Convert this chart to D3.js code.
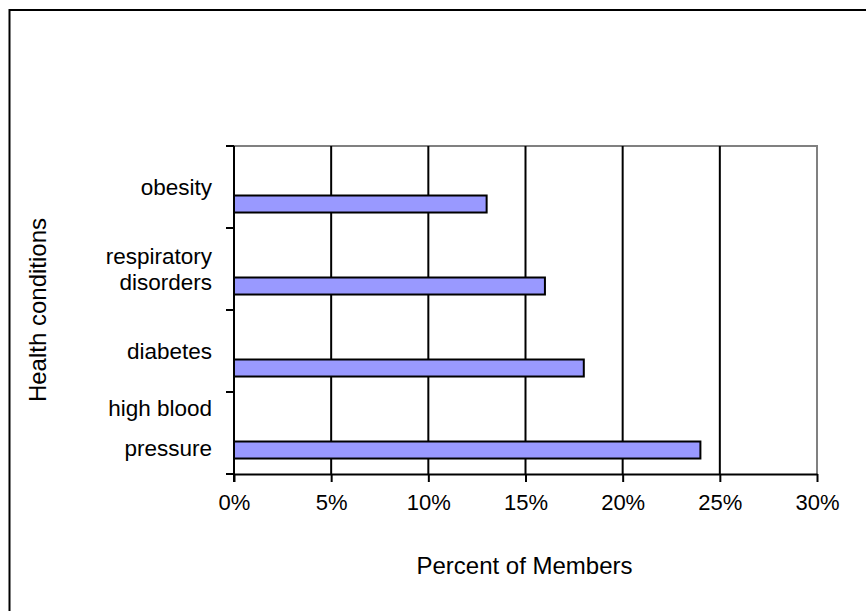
<!DOCTYPE html>
<html>
<head>
<meta charset="utf-8">
<script src="https://cdn.jsdelivr.net/npm/d3@7/dist/d3.min.js"></script>
<style>
  html, body { margin: 0; padding: 0; background: #fff; }
  svg { display: block; font-family: "Liberation Sans", Arial, sans-serif; }
</style>
</head>
<body>
<svg id="chart" width="866" height="611"></svg>
<script>
// Health conditions, top to bottom
const categories = ["obesity", "respiratory disorders", "diabetes", "high blood pressure"];
const labelLines = [["obesity"], ["respiratory", "disorders"], ["diabetes"], ["high blood", "pressure"]];
// Percent of members with each condition
const percentValues = [13, 16, 18, 24];
const tickValues = [0, 5, 10, 15, 20, 25, 30];

const TICK_FONT = 22;
const LABEL_FONT = 22.5;
const svg = d3.select("#chart");
const margin = { left: 234, right: 866 - 817, top: 146, bottom: 611 - 474 };
const W = 866, H = 611;
const plotW = W - margin.left - margin.right;
const plotH = H - margin.top - margin.bottom;

// Outer chart frame (left and top edges visible, runs past the window)
svg.append("rect")
  .attr("x", 9.5).attr("y", 10)
  .attr("width", 900).attr("height", 700)
  .attr("fill", "none").attr("stroke", "#000").attr("stroke-width", 2);

const g = svg.append("g").attr("transform", `translate(${margin.left},${margin.top})`);

const x = d3.scaleLinear().domain([0, 30]).range([0, plotW]);
const y = d3.scaleBand().domain(categories).range([0, plotH]).padding(0);
// three series slots per category; the filled series sits in the bottom slot
const sub = d3.scaleBand().domain([0, 1, 2]).range([0, y.bandwidth()]).paddingInner(0).paddingOuter(0.91);

// plot area border (grey top and right)
g.append("path")
  .attr("d", `M0,0H${plotW}V${plotH}`)
  .attr("fill", "none").attr("stroke", "#808080").attr("stroke-width", 2);

// vertical gridlines
g.selectAll("line.grid")
  .data(tickValues.filter(t => t > 0 && t < 30))
  .enter().append("line")
  .attr("class", "grid")
  .attr("x1", d => x(d)).attr("x2", d => x(d))
  .attr("y1", 0).attr("y2", plotH)
  .attr("stroke", "#000").attr("stroke-width", 2);

// bars
g.selectAll("rect.bar")
  .data(categories)
  .enter().append("rect")
  .attr("class", "bar")
  .attr("x", x(0))
  .attr("y", d => y(d) + sub(2))
  .attr("width", (d, i) => x(percentValues[i]) - x(0))
  .attr("height", sub.bandwidth())
  .attr("fill", "#9999FF")
  .attr("stroke", "#000").attr("stroke-width", 2);

// x axis
const xAxis = g.append("g")
  .attr("transform", `translate(0,${plotH})`)
  .call(d3.axisBottom(x).tickValues(tickValues).tickFormat(d => d + "%").tickSize(8).tickSizeOuter(0));
xAxis.select(".domain").attr("stroke", "#000").attr("stroke-width", 2);
xAxis.selectAll(".tick line").attr("stroke", "#000").attr("stroke-width", 2);
xAxis.selectAll(".tick text")
  .attr("font-size", TICK_FONT).attr("fill", "#000")
  .attr("font-family", "'Liberation Sans', Arial, sans-serif")
  .attr("dy", null).attr("y", 36);

// y axis: ticks at category boundaries
const yAxisG = g.append("g");
yAxisG.append("line")
  .attr("x1", 0).attr("x2", 0).attr("y1", 0).attr("y2", plotH + 8)
  .attr("stroke", "#000").attr("stroke-width", 2);
const bounds = categories.map(c => y(c)).concat([plotH]);
yAxisG.selectAll("line.ytick")
  .data(bounds).enter().append("line")
  .attr("class", "ytick")
  .attr("x1", -8).attr("x2", 0)
  .attr("y1", d => d).attr("y2", d => d)
  .attr("stroke", "#000").attr("stroke-width", 2);

// category labels
const lineGap = [0, 26, 0, 40];
categories.forEach((c, i) => {
  const lines = labelLines[i];
  const cy = y(c) + y.bandwidth() / 2 - (i === 3 ? 5 : 0);
  const t = g.append("text")
    .attr("text-anchor", "end")
    .attr("font-size", LABEL_FONT).attr("fill", "#000");
  lines.forEach((ln, k) => {
    const off = (k - (lines.length - 1) / 2) * lineGap[i];
    t.append("tspan").attr("x", -22).attr("y", cy + off + 8).text(ln);
  });
});

// axis titles
svg.append("text")
  .attr("x", margin.left + plotW / 2 - 1).attr("y", 574)
  .attr("text-anchor", "middle").attr("font-size", 24).attr("fill", "#000")
  .text("Percent of Members");

svg.append("text")
  .attr("transform", `translate(46,${margin.top + plotH / 2}) rotate(-90)`)
  .attr("text-anchor", "middle").attr("font-size", 24).attr("fill", "#000")
  .text("Health conditions");
</script>
</body>
</html>
